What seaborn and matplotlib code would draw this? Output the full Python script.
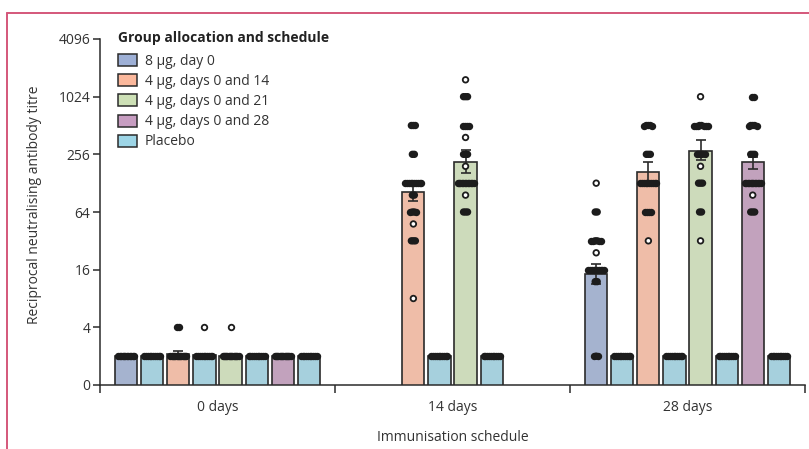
import numpy as np
import pandas as pd
import matplotlib
matplotlib.use("Agg")
import matplotlib.pyplot as plt
from matplotlib.patches import Patch
from matplotlib.lines import Line2D
import seaborn as sns

# ---------------- data ----------------
time_labels = ["0 days", "14 days", "28 days"]
slot_names = ["8 µg, day 0", "Placebo A", "4 µg, days 0 and 14", "Placebo B",
              "4 µg, days 0 and 21", "Placebo C", "4 µg, days 0 and 28", "Placebo D"]
legend_title = "Group allocation and schedule"
legend_names = ["8 µg, day 0", "4 µg, days 0 and 14", "4 µg, days 0 and 21",
                "4 µg, days 0 and 28", "Placebo"]
legend_slots = [0, 2, 4, 6, 1]
slot_colors = ["#9eb0d6", "#9dd5e6", "#fbb89c", "#9dd5e6",
               "#cde0b6", "#9dd5e6", "#c79dc1", "#9dd5e6"]

# one entry per bar: time index, slot index, geometric mean titre, error range
bar_time = [0, 0, 0, 0, 0, 0, 0, 0, 1, 1, 1, 1, 2, 2, 2, 2, 2, 2, 2, 2]
bar_slot = [0, 1, 2, 3, 4, 5, 6, 7, 2, 3, 4, 5, 0, 1, 2, 3, 4, 5, 6, 7]
bar_gmt = [2, 2, 2.12, 2.05, 2, 2, 2, 2, 103, 2, 215, 2, 14.3, 2, 167, 2, 280, 2, 215, 2]
bar_lo = [np.nan, np.nan, 2.0, np.nan, np.nan, np.nan, np.nan, np.nan,
          84, np.nan, 163, np.nan, 11.3, np.nan, 131, np.nan, 221, np.nan, 181, np.nan]
bar_hi = [np.nan, np.nan, 2.25, np.nan, np.nan, np.nan, np.nan, np.nan,
          136, np.nan, 286, np.nan, 18.5, np.nan, 215, np.nan, 357, np.nan, 239, np.nan]

# individual titres per bar: levels and number of participants at each level
pt_levels = [
    [2], [2], [2, 4], [2, 4], [2, 4], [2], [2], [2],
    [512, 256, 128, 96, 64, 48, 32, 8], [2],
    [1536, 1024, 512, 384, 256, 192, 128, 96, 64], [2],
    [128, 64, 32, 24, 16, 12, 2], [2],
    [512, 256, 128, 64, 32], [2],
    [1024, 512, 256, 192, 128, 64, 32], [2],
    [1024, 512, 256, 128, 96, 64], [2],
]
pt_counts = [
    [12], [10], [14, 2], [10, 1], [14, 1], [10], [14], [10],
    [3, 2, 10, 2, 4, 1, 3, 1], [10],
    [1, 3, 4, 1, 3, 1, 12, 1, 3], [10],
    [1, 2, 6, 1, 10, 2, 3], [10],
    [5, 3, 10, 4, 1], [10],
    [1, 8, 5, 1, 3, 2, 1], [10],
    [2, 5, 3, 12, 1, 3], [10],
]

y_ticks = [1, 4, 16, 64, 256, 1024, 4096]
y_ticklabels = ["0", "4", "16", "64", "256", "1024", "4096"]

# ---------------- layout helpers ----------------
slot_step = 0.111          # distance between neighbouring bars (axis units)
dot_step = 0.0085          # horizontal spread between tied points
max_half_spread = 0.034    # tied points stay within the bar

def xpos(t, s):
    return t + (s - 3.5) * slot_step

bars = pd.DataFrame({
    "xpos": [xpos(t, s) for t, s in zip(bar_time, bar_slot)],
    "slot": [slot_names[s] for s in bar_slot],
    "gmt": bar_gmt, "lo": bar_lo, "hi": bar_hi,
})
rows = []
for t, s, lv, ct in zip(bar_time, bar_slot, pt_levels, pt_counts):
    for v, c in zip(lv, ct):
        half = min((c - 1) * dot_step / 2, max_half_spread)
        for off in np.linspace(-half, half, c):
            rows.append({"xpos": xpos(t, s) + off, "titre": v,
                         "kind": "single" if c == 1 else "cluster"})
pts = pd.DataFrame(rows)

# ---------------- plot ----------------
sns.set_style("ticks")
plt.rcParams["font.family"] = ["Open Sans", "DejaVu Sans"]
ink = "#2b2b2b"

fig = plt.figure(figsize=(8.09, 4.49), dpi=100)
ax = fig.add_axes([100 / 809, 1 - 385 / 449, 705 / 809, 346 / 449])

sns.barplot(data=bars, x="xpos", y="gmt", hue="slot", hue_order=slot_names,
            palette=slot_colors, native_scale=True, dodge=False, width=0.85,
            edgecolor=ink, linewidth=1.2, errorbar=None, legend=False, ax=ax,
            zorder=2)

eb = bars.dropna()
ax.errorbar(eb["xpos"], eb["gmt"], yerr=[eb["gmt"] - eb["lo"], eb["hi"] - eb["gmt"]],
            fmt="none", ecolor=ink, elinewidth=1.2, capsize=3.5, capthick=1.2, zorder=3)

sns.stripplot(data=pts, x="xpos", y="titre", hue="kind",
              palette={"single": "white", "cluster": "#1c1c1c"},
              native_scale=True, dodge=False, jitter=False,
              size=4.0, edgecolor="#1c1c1c", linewidth=1.3, legend=False,
              ax=ax, zorder=4)

ax.set_yscale("log", base=2)
ax.set_ylim(1, 4096)
ax.set_yticks(y_ticks)
ax.set_yticklabels(y_ticklabels)
ax.yaxis.set_minor_locator(matplotlib.ticker.NullLocator())

ax.set_xlim(-0.5, 2.5)
ax.set_xticks([-0.5, 0.5, 1.5, 2.5])
ax.set_xticklabels([])
ax.set_xticks([0, 1, 2], minor=True)
ax.set_xticklabels(time_labels, minor=True)
ax.tick_params(axis="x", which="major", length=6, width=1.1, color=ink)
ax.tick_params(axis="x", which="minor", length=0, pad=11, labelsize=10, labelcolor="#333333")
ax.tick_params(axis="y", which="major", length=5, width=1.1, color=ink,
               labelsize=10, labelcolor="#333333", pad=2)

for side in ["top", "right"]:
    ax.spines[side].set_visible(False)
for side in ["left", "bottom"]:
    ax.spines[side].set_color(ink)
    ax.spines[side].set_linewidth(1.1)
ax.spines["left"].set_bounds(1, 4096)

ax.set_xlabel("Immunisation schedule", fontsize=10, color="#333333")
ax.set_ylabel("Reciprocal neutralising antibody titre", fontsize=10, color="#333333")
ax.xaxis.set_label_coords(0.5, -0.13)
ax.yaxis.set_label_coords(-0.082, 0.52)

handles = [Patch(facecolor=slot_colors[s], edgecolor=ink, linewidth=1.1) for s in legend_slots]
leg = ax.legend(handles, legend_names,
                loc="upper left", bbox_to_anchor=(0.012, 0.985), frameon=False,
                fontsize=10, handlelength=1.35, handleheight=0.95, handletextpad=0.55,
                labelspacing=0.37, borderpad=0.2)
for txt in leg.get_texts():
    txt.set_color("#333333")
fig.text(118 / 809, 1 - 38 / 449, legend_title, ha="left", va="center",
         fontsize=10, fontweight="bold", color="#222222")

# page frame line (left and top)
frame_col = "#d4577a"
fig.add_artist(Line2D([7 / 809, 7 / 809], [0, 1 - 13 / 449], color=frame_col, lw=1.4,
                      transform=fig.transFigure))
fig.add_artist(Line2D([7 / 809, 1.0], [1 - 13 / 449, 1 - 13 / 449], color=frame_col, lw=1.4,
                      transform=fig.transFigure))

fig.savefig("out.png", dpi=100)
